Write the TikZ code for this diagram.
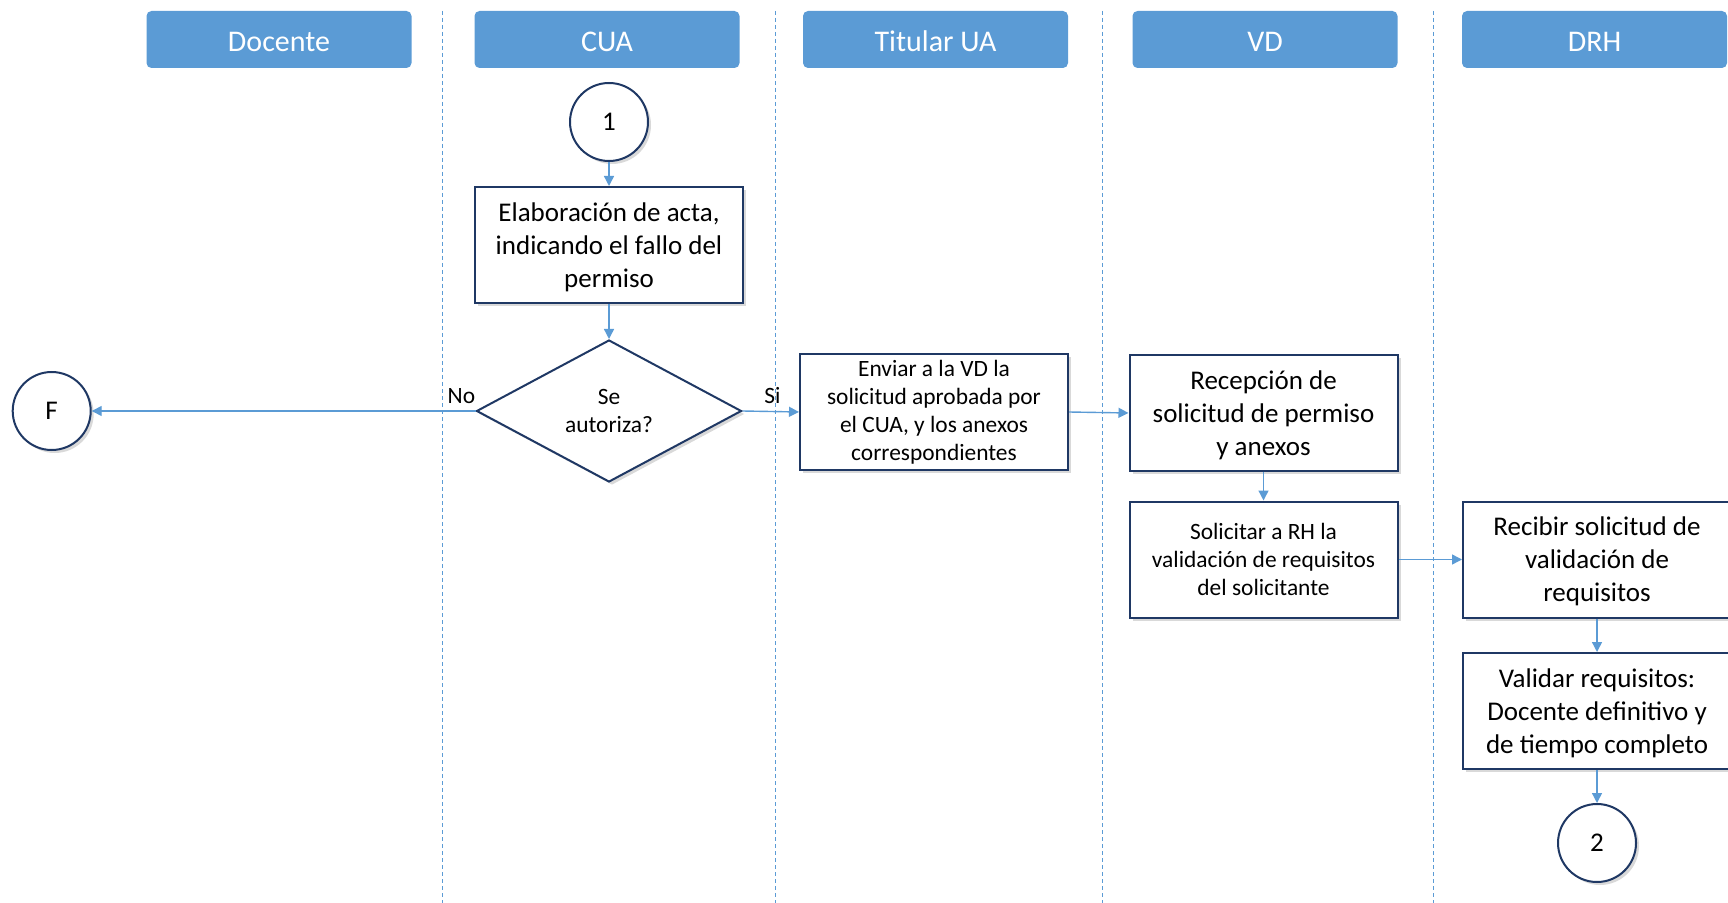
\documentclass[tikz,border=0pt]{standalone}
\usepackage{fontspec}
\setmainfont{Carlito}
\usetikzlibrary{shapes.geometric,arrows.meta,shadows}
\definecolor{laneblue}{HTML}{5B9BD5}
\definecolor{boxnavy}{HTML}{1F3864}

\begin{document}
\begin{tikzpicture}[x=0.5pt,y=-0.5pt]
            \tikzset{
                lanehead/.style={fill=laneblue, rounded corners=2.5pt, minimum width=132.5pt,
                    minimum height=28.5pt, inner sep=0pt, text height=12.2pt, text depth=0pt,
                    text=white, font=\fontsize{15}{18}\selectfont},
                lanesep/.style={laneblue, line width=0.5pt, dash pattern=on 2pt off 1.5pt},
                procbox/.style={draw=boxnavy, line width=1pt, fill=white, minimum width=134pt,
                    minimum height=58pt, inner sep=2pt, align=center,
                    drop shadow={opacity=0.3, shadow xshift=1.5pt, shadow yshift=-1.5pt}},
                decision/.style={diamond, draw=boxnavy, line width=1pt, fill=white, shape aspect=1.9,
                    minimum width=132.5pt, minimum height=71pt, inner sep=0pt, align=center,
                    drop shadow={opacity=0.3, shadow xshift=1.5pt, shadow yshift=-1.5pt}},
                connector/.style={circle, draw=boxnavy, line width=1pt, fill=white, minimum size=39pt,
                    inner sep=0pt, font=\fontsize{13.5}{15}\selectfont,
                    drop shadow={opacity=0.3, shadow xshift=1.5pt, shadow yshift=-1.5pt}},
                bigtext/.style={font=\fontsize{13.5}{16.5}\selectfont, text depth=0pt},
                smalltext/.style={font=\fontsize{11.7}{14}\selectfont},
                flow/.style={laneblue, line width=0.7pt, -{Triangle[length=5pt,width=5pt]}}
            }

            \useasboundingbox (0,0) rectangle (1728,903);

            % lanes
            \node[lanehead] (hdoc) at (279,39.5) {Docente};
            \node[lanehead] (hcua) at (607,39.5) {CUA};
            \node[lanehead] (htit) at (935.5,39.5) {Titular UA};
            \node[lanehead] (hvd) at (1265,39.5) {VD};
            \node[lanehead] (hdrh) at (1594.5,39.5) {DRH};
            \foreach \x in {442,775,1102,1433}
                \draw[lanesep] (\x,11) -- (\x,903);

            % steps
            \node[connector] (start) at (609,122) {1};
            \node[procbox, bigtext] (acta) at (609,245)
                {Elaboración de acta,\\ indicando el fallo del\\ permiso};
            \node[decision, smalltext] (autoriza) at (609,411) {Se\\ autoriza?};
            \node[connector] (fin) at (51.7,411) {F};
            \node[procbox, smalltext] (enviar) at (934,412)
                {Enviar a la VD la\\ solicitud aprobada por\\ el CUA, y los anexos\\ correspondientes};
            \node[procbox, bigtext] (recep) at (1263.5,413)
                {Recepción de\\ solicitud de permiso\\ y anexos};
            \node[procbox, smalltext] (solic) at (1263.5,559.5)
                {Solicitar a RH la\\ validación de requisitos\\ del solicitante};
            \node[procbox, bigtext] (recib) at (1597,559.5)
                {Recibir solicitud de\\ validación de\\ requisitos};
            \node[procbox, bigtext] (valid) at (1597,711)
                {Validar requisitos:\\ Docente definitivo y\\ de tiempo completo};
            \node[connector] (sig) at (1597,843) {2};

            % flows
            \draw[flow] (start) -- (acta);
            \draw[flow] (acta) -- (autoriza);
            \draw[flow] (autoriza.west) -- (fin.east);
            \draw[flow] (autoriza.east) -- (enviar.west);
            \draw[flow] (enviar.east) -- (recep.west);
            \draw[flow] (recep) -- (solic);
            \draw[flow] (solic) -- (recib);
            \draw[flow] (recib) -- (valid);
            \draw[flow] (valid) -- (sig);

            \node[smalltext, above left, inner sep=0pt, yshift=3.5pt] (no) at (autoriza.west) {No};
            \node[smalltext, above right, inner sep=0pt, xshift=10.7pt, yshift=3.5pt] (si) at (autoriza.east) {Si};
\end{tikzpicture}
\end{document}
